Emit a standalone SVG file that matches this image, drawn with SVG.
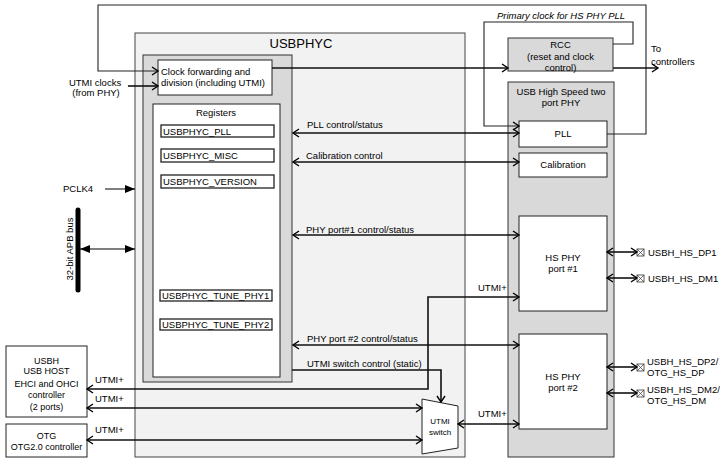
<svg xmlns="http://www.w3.org/2000/svg" width="720" height="463" viewBox="0 0 720 463">
<style>
text{font-family:"Liberation Sans",Arial,sans-serif;font-size:9.5px;fill:#000}
.t13{font-size:13px}
.sm{font-size:9px}
.xs{font-size:8px}
.it{font-style:italic}
.mid{text-anchor:middle}
.box{fill:#fff;stroke:#222;stroke-width:1}
.gray{fill:#d9d9d9;stroke:#333;stroke-width:1}
.light{fill:#f2f2f2;stroke:#444;stroke-width:1}
.reg{fill:#fff;stroke:#222;stroke-width:1.3}
.ln{fill:none;stroke:#111;stroke-width:1.6}
.thin{fill:none;stroke:#222;stroke-width:1.1}
</style>
<defs>
<marker id="a" viewBox="0 0 10 10" refX="8" refY="5" markerWidth="10" markerHeight="10" markerUnits="userSpaceOnUse" orient="auto-start-reverse">
<path d="M2,1 L8,5 L2,9" fill="none" stroke="#000" stroke-width="1.4"/>
</marker>
<marker id="f" viewBox="0 0 10 10" refX="10" refY="5" markerWidth="10" markerHeight="10" markerUnits="userSpaceOnUse" orient="auto-start-reverse">
<path d="M0,1 L10,5 L0,9 z" fill="#000"/>
</marker>
</defs>

<g id="usbphyc">
<rect class="light" x="135" y="33" width="330" height="424"/>
<text class="t13 mid" x="301" y="48">USBPHYC</text>
</g>
<g id="inner">
<rect class="gray" x="143" y="55" width="149" height="327"/>
</g>
<g id="clockfwd">
<rect class="box" x="158" y="60" width="114" height="35"/>
<text x="161" y="74.5">Clock forwarding and</text>
<text x="161" y="85.5">division (including UTMI)</text>
</g>
<g id="registers">
<rect class="box" x="153" y="104" width="127" height="273"/>
<text class="mid" x="216" y="115.5">Registers</text>
<rect class="reg" x="161" y="125" width="113" height="12"/>
<text x="163" y="134.5">USBPHYC_PLL</text>
<rect class="reg" x="161" y="149" width="113" height="13"/>
<text x="163" y="158.5">USBPHYC_MISC</text>
<rect class="reg" x="161" y="175" width="113" height="13"/>
<text x="163" y="184.5">USBPHYC_VERSION</text>
<rect class="reg" x="160" y="290" width="112" height="11"/>
<text x="162" y="299">USBPHYC_TUNE_PHY1</text>
<rect class="reg" x="160" y="319" width="112" height="11"/>
<text x="162" y="328">USBPHYC_TUNE_PHY2</text>
</g>
<g id="rcc">
<rect class="gray" x="508" y="38" width="105" height="33"/>
<text class="mid" x="560.5" y="47.5">RCC</text>
<text class="mid" x="560.5" y="60">(reset and clock</text>
<text class="mid" x="560.5" y="71">control)</text>
</g>
<g id="phy">
<rect class="gray" x="508" y="82" width="106" height="375"/>
<text class="mid" x="561" y="94.5">USB High Speed two</text>
<text class="mid" x="561" y="105.5">port PHY</text>
</g>
<g id="pll">
<rect class="box" x="519" y="121" width="88" height="26"/>
<text class="mid" x="563" y="137">PLL</text>
</g>
<g id="calibration">
<rect class="box" x="519" y="153" width="88" height="24"/>
<text class="mid" x="563" y="168">Calibration</text>
</g>
<g id="hsphy1">
<rect class="box" x="519" y="216" width="88" height="95"/>
<text class="mid" x="563" y="260.5">HS PHY</text>
<text class="mid" x="563" y="271.5">port #1</text>
</g>
<g id="hsphy2">
<rect class="box" x="519" y="334" width="88" height="95"/>
<text class="mid" x="563" y="379.5">HS PHY</text>
<text class="mid" x="563" y="390.5">port #2</text>
</g>
<g id="usbh">
<rect class="box" x="6" y="346" width="81" height="71"/>
<text class="sm mid" x="46.5" y="363.5">USBH</text>
<text class="sm mid" x="46.5" y="374">USB HOST</text>
<text class="sm mid" x="46.5" y="386.5">EHCI and OHCI</text>
<text class="sm mid" x="46.5" y="397.5">controller</text>
<text class="sm mid" x="46.5" y="410">(2 ports)</text>
</g>
<g id="otg">
<rect class="box" x="6" y="424" width="81" height="33"/>
<text class="sm mid" x="46.5" y="438.5">OTG</text>
<text class="sm mid" x="46.5" y="449.5">OTG2.0 controller</text>
</g>
<g id="utmiswitch">
<path d="M422,399 L458,406 L458,448 L422,454 Z" fill="#fff" stroke="#222" stroke-width="1"/>
<text class="xs mid" x="440" y="424">UTMI</text>
<text class="xs mid" x="440" y="435">switch</text>
</g>
<g id="apbbus">
<line x1="78" y1="210" x2="78" y2="290" stroke="#000" stroke-width="5" stroke-linecap="round"/>
<text class="mid" transform="translate(73,249) rotate(-90)">32-bit APB bus</text>
</g>
<g id="pins">
<rect x="637" y="249" width="7" height="7" fill="#fff" stroke="#333" stroke-width="0.8"/>
<path d="M637,249 L644,256 M644,249 L637,256" stroke="#333" stroke-width="0.7"/>
<text x="648" y="255.5">USBH_HS_DP1</text>
<rect x="637" y="275" width="7" height="7" fill="#fff" stroke="#333" stroke-width="0.8"/>
<path d="M637,275 L644,282 M644,275 L637,282" stroke="#333" stroke-width="0.7"/>
<text x="648" y="281.5">USBH_HS_DM1</text>
<rect x="637" y="364" width="7" height="7" fill="#fff" stroke="#333" stroke-width="0.8"/>
<path d="M637,364 L644,371 M644,364 L637,371" stroke="#333" stroke-width="0.7"/>
<text x="647" y="364.5">USBH_HS_DP2/</text>
<text x="647" y="375.5">OTG_HS_DP</text>
<rect x="637" y="390" width="7" height="7" fill="#fff" stroke="#333" stroke-width="0.8"/>
<path d="M637,390 L644,397 M644,390 L637,397" stroke="#333" stroke-width="0.7"/>
<text x="647" y="392.5">USBH_HS_DM2/</text>
<text x="647" y="403.5">OTG_HS_DM</text>
</g>

<g id="connectors">
<polyline class="thin" points="607,134 646,134 646,5 98,5 98,71 158,71" marker-end="url(#a)"/>
<polyline class="thin" points="613,44 633,44 633,22 484,22 484,126 519,126" marker-end="url(#a)"/>
<line class="ln" x1="128" y1="86" x2="158" y2="86" stroke-width="1.1" marker-end="url(#a)"/>
<line class="ln" x1="272" y1="68" x2="508" y2="68" marker-end="url(#a)"/>
<line class="ln" x1="613" y1="68" x2="658" y2="68" marker-end="url(#a)"/>
<line x1="105" y1="189" x2="135" y2="189" stroke="#000" stroke-width="1" marker-end="url(#f)"/>
<line x1="80" y1="249" x2="135" y2="249" stroke="#000" stroke-width="1.2" marker-start="url(#f)" marker-end="url(#f)"/>
<line class="ln" x1="293" y1="133" x2="519" y2="133" marker-start="url(#a)" marker-end="url(#a)"/>
<line class="ln" x1="293" y1="162" x2="519" y2="162" marker-start="url(#a)" marker-end="url(#a)"/>
<line class="ln" x1="293" y1="235" x2="519" y2="235" marker-start="url(#a)" marker-end="url(#a)"/>
<line class="ln" x1="293" y1="345" x2="519" y2="345" marker-start="url(#a)" marker-end="url(#a)"/>
<polyline class="ln" points="292,370 441,370 441,402" marker-end="url(#a)"/>
<polyline class="ln" points="87,389 428,389 428,297 519,297" marker-start="url(#a)" marker-end="url(#a)"/>
<line class="ln" x1="87" y1="408" x2="422" y2="408" marker-start="url(#a)" marker-end="url(#a)"/>
<line class="ln" x1="87" y1="440" x2="422" y2="440" marker-start="url(#a)" marker-end="url(#a)"/>
<line class="ln" x1="458" y1="424" x2="519" y2="424" marker-start="url(#a)" marker-end="url(#a)"/>
<line class="ln" x1="607" y1="252" x2="637" y2="252" marker-start="url(#a)" marker-end="url(#a)"/>
<line class="ln" x1="607" y1="278" x2="637" y2="278" marker-start="url(#a)" marker-end="url(#a)"/>
<line class="ln" x1="607" y1="367" x2="637" y2="367" marker-start="url(#a)" marker-end="url(#a)"/>
<line class="ln" x1="607" y1="393" x2="637" y2="393" marker-start="url(#a)" marker-end="url(#a)"/>
</g>

<g id="labels">
<text class="it" x="497" y="19">Primary clock for HS PHY PLL</text>
<text x="651" y="51.5">To</text>
<text x="651" y="64.5">controllers</text>
<text class="mid" x="95" y="85.5">UTMI clocks</text>
<text class="mid" x="96" y="96">(from PHY)</text>
<text x="63" y="192">PCLK4</text>
<text x="307" y="127.5">PLL control/status</text>
<text x="306" y="158.5">Calibration control</text>
<text x="306" y="232.5">PHY port#1 control/status</text>
<text x="307" y="341.5">PHY port #2 control/status</text>
<text x="307" y="366.5">UTMI switch control (static)</text>
<text x="478" y="290.5">UTMI+</text>
<text x="478" y="416.5">UTMI+</text>
<text x="95" y="382.5">UTMI+</text>
<text x="95" y="401.5">UTMI+</text>
<text x="95" y="432.5">UTMI+</text>
</g>
</svg>
